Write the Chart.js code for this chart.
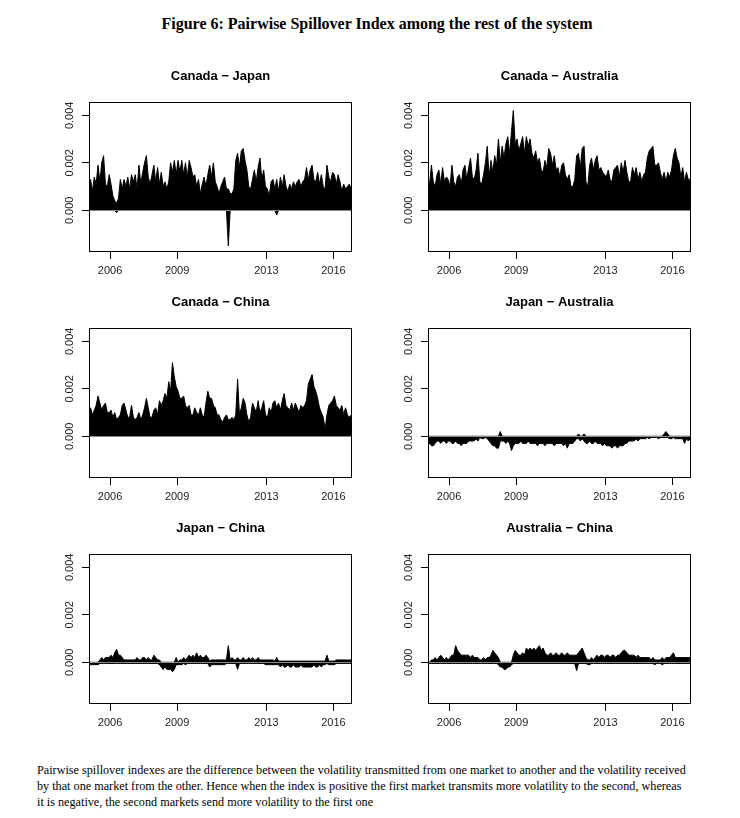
<!DOCTYPE html>
<html>
<head>
<meta charset="utf-8">
<title>Figure 6: Pairwise Spillover Index</title>
<script src="https://cdn.jsdelivr.net/npm/chart.js"></script>
<style>
  body { margin: 0; width: 740px; height: 818px; background: #fff; position: relative; overflow: hidden; }
  .fig-title { position: absolute; left: 0; width: 754px; top: 15px; text-align: center;
               font: bold 16px "Liberation Serif", "Times New Roman", serif; color: #000; }
  canvas { position: absolute; }
  .note { position: absolute; left: 37px; top: 762px; white-space: nowrap; color: #000;
          font: 12.2px/16px "Liberation Serif", "Times New Roman", serif; }
</style>
</head>
<body>
<div class="fig-title">Figure 6: Pairwise Spillover Index among the rest of the system</div>

<canvas id="p1" width="333" height="235" style="left:29px;top:57px"></canvas>
<canvas id="p2" width="333" height="235" style="left:368px;top:57px"></canvas>
<canvas id="p3" width="333" height="235" style="left:29px;top:283px"></canvas>
<canvas id="p4" width="333" height="235" style="left:368px;top:283px"></canvas>
<canvas id="p5" width="333" height="235" style="left:29px;top:509px"></canvas>
<canvas id="p6" width="333" height="235" style="left:368px;top:509px"></canvas>

<div class="note">Pairwise spillover indexes are the difference between the volatility transmitted from one market to another and the volatility received<br>by that one market from the other. Hence when the index is positive the first market transmits more volatility to the second, whereas<br>it is negative, the second markets send more volatility to the first one</div>

<script>
// monthly series, Jan 2005 .. Oct 2016, values in units of 1e-4
// hi = upper edge of the plotted band, lo = lower edge
const START_YEAR = 2005;
const UNIT = 1e-4;
const yearTicks = [2006, 2009, 2013, 2016];
const yTicks = [0, 0.002, 0.004];

const canJpnHi = [
  10,13,8,14,11,19,12,20,23,11,10,15,
  11,6,4,3,5,13,9,13,10,14,9,15,
  12,15,9,19,11,16,20,23,14,11,15,19,
  12,18,11,16,10,12,9,12,20,16,21,15,
  21,16,21,15,20,14,21,18,14,15,10,13,
  7,11,14,10,15,19,14,20,12,10,7,10,
  12,14,9,9,7,7,9,21,24,18,25,26,
  21,17,10,9,13,17,12,18,22,13,17,10,
  9,6,12,13,9,13,8,14,10,15,10,8,
  11,9,12,10,12,13,10,12,13,18,13,17,
  19,13,12,16,11,15,10,9,19,14,12,16,
  15,11,15,12,8,11,9,10,11,9
];
const canJpnLo = [
  0,0,0,0,0,0,0,0,0,0,0,0,
  0,0,0,-1,0,0,0,0,0,0,0,0,
  0,0,0,0,0,0,0,0,0,0,0,0,
  0,0,0,0,0,0,0,0,0,0,0,0,
  0,0,0,0,0,0,0,0,0,0,0,0,
  0,0,0,0,0,0,0,0,0,0,0,0,
  0,0,0,-15,0,0,0,0,0,0,0,0,
  0,0,0,0,0,0,0,0,0,0,0,0,
  0,0,0,0,0,-2,0,0,0,0,0,0,
  0,0,0,0,0,0,0,0,0,0,0,0,
  0,0,0,0,0,0,0,0,0,0,0,0,
  0,0,0,0,0,0,0,0,0,0
];

const canAusHi = [
  13,11,19,12,10,15,17,11,18,12,14,13,
  10,19,12,10,14,15,11,17,19,13,18,22,
  14,13,17,24,12,11,15,20,27,14,21,16,
  23,19,30,20,27,22,28,31,24,33,42,28,
  30,25,28,31,24,31,27,30,24,22,25,20,
  22,17,16,21,18,26,24,19,23,17,18,14,
  19,20,15,13,15,10,10,13,23,24,18,26,
  27,12,10,19,22,17,21,23,17,18,16,15,
  14,17,13,12,17,18,19,14,20,16,21,16,
  12,12,18,15,18,13,16,12,15,16,22,25,
  26,27,19,19,20,16,13,16,12,16,14,17,
  23,26,22,20,14,18,12,16,13,13
];
const canAusLo = [
  0,0,0,0,0,0,0,0,0,0,0,0,
  0,0,0,0,0,0,0,0,0,0,0,0,
  0,0,0,0,0,0,0,0,0,0,0,0,
  0,0,0,0,0,0,0,0,0,0,0,0,
  0,0,0,0,0,0,0,0,0,0,0,0,
  0,0,0,0,0,0,0,0,0,0,0,0,
  0,0,0,0,0,0,0,0,0,0,0,0,
  0,0,0,0,0,0,0,0,0,0,0,0,
  0,0,0,0,0,0,0,0,0,0,0,0,
  0,0,0,0,0,0,0,0,0,0,0,0,
  0,0,0,0,0,0,0,0,0,0,0,0,
  0,0,0,0,0,0,0,0,0,0
];

const canChnHi = [
  11,12,9,11,13,17,14,11,13,14,10,10,
  11,8,10,7,8,9,13,14,11,8,8,13,
  8,7,8,10,7,9,12,16,12,8,8,11,
  12,9,15,13,15,18,16,23,19,31,25,21,
  19,16,16,17,13,12,13,9,9,12,10,9,
  12,9,8,14,19,16,16,13,12,9,9,7,
  6,8,9,7,7,8,7,9,24,9,12,16,
  14,9,6,8,14,12,10,15,10,12,15,9,
  8,12,10,14,15,12,14,11,15,18,13,12,
  11,14,11,14,12,10,13,12,13,15,22,24,
  26,21,19,16,12,10,8,3,9,13,14,15,
  17,13,12,11,13,9,12,9,8,9
];
const canChnLo = canAusLo;

const jpnAusHi = [
  0,0,0,0,0,0,0,0,0,0,0,0,
  0,0,0,0,0,0,0,0,0,0,0,0,
  0,0,0,0,0,0,0,0,0,0,0,0,
  0,0,0,2,0,0,0,0,0,0,0,0,
  0,0,0,0,0,0,0,0,0,0,0,0,
  0,0,0,0,0,0,0,0,0,0,0,0,
  0,0,0,0,0,0,0,0,0,1,0,0,
  1,0,0,0,0,0,0,0,0,0,0,0,
  0,0,0,0,0,0,0,0,0,0,0,0,
  0,0,0,0,0,0,0,0,0,0,0,0,
  0,0,0,0,0,0,0,1,2,1,0,0,
  0,0,0,0,0,0,0,0,0,0
];
const jpnAusLo = [
  -3,-3,-4,-4,-3,-2,-2,-3,-2,-2,-3,-2,
  -2,-3,-3,-2,-3,-3,-4,-3,-3,-3,-2,-2,
  -2,-2,-1,-2,-0.5,-1,-1,-0.5,-1,-2,-3,-4,
  -4,-5,-5,-2,-2,-2,-3,-2,-3,-6,-4,-3,
  -3,-3,-2,-3,-3,-3,-2,-3,-3,-3,-3,-4,
  -3,-3,-3,-4,-3,-3,-3,-3,-4,-3,-3,-3,
  -3,-4,-3,-5,-3,-3,-3,-2,-1,-1,-2,-1,
  -2,-3,-3,-2,-3,-3,-2,-3,-3,-3,-4,-3,
  -4,-4,-4,-5,-4,-4,-5,-4,-4,-4,-3,-3,
  -2,-2,-2,-2,-1,-2,-1,-1,-1,-1,-0.5,-1,
  -0.5,-0.5,-0.5,-0.5,-1,-0.5,-0.5,-0.5,-0.5,-0.5,-1,-1,
  -0.5,-1,-1,-1,-1,-1,-3,-1,-2,-1
];

const jpnChnHi = [
  0,0,0,0,0,0,1,2,1,2,2,2,
  3,2,4,5.5,3,3,2,1,1,1,1,1,
  1,1,2,1,1,2,2,1,2,1,1,3,
  2,1,1,0,0,0,0,0,0,0,0,2,
  0,1,1,2,1,2,3,2,3,2,4,2,
  3,2,2,3,2,0.5,1,1,1,1,1,1,
  1,1,1,7,1,2,1,1,2,1,1,2,
  1,1,2,1,2,1,1,2,1,1,1,1,
  1,1,1,1,0.5,2,0.5,0.5,0.5,0.5,0.5,0.5,
  0.5,0.5,0.5,0.5,0.5,0.5,0.5,0.5,0.5,0.5,0.5,0.5,
  0.5,0.5,0.5,0.5,0.5,0.5,0.5,0.5,3,0.5,0.5,0.5,
  0.5,1,1,1,1,1,1,1,1,1
];
const jpnChnLo = [
  -1,-1,-1,-1,-1,-1,-0.5,-0.5,-0.5,-0.5,-0.5,-0.5,
  -0.5,-0.5,-0.5,-0.5,-0.5,-0.5,-0.5,-0.5,-0.5,-0.5,-0.5,-0.5,
  -0.5,-0.5,-0.5,-0.5,-0.5,-0.5,-0.5,-0.5,-0.5,-0.5,-0.5,-0.5,
  -0.5,-0.5,-1,-2,-3,-2,-3,-3,-3,-4,-3,-1,
  -1,-1,-1,-0.5,-1,-0.5,-0.5,-0.5,-0.5,-0.5,-0.5,-0.5,
  -0.5,-0.5,-0.5,-0.5,-0.5,-2,-1,-1,-1,-1,-1,-1,
  -1,-1,-0.5,-0.5,-0.5,-0.5,-0.5,-0.5,-3,-0.5,-0.5,-0.5,
  -0.5,-0.5,-0.5,-0.5,-0.5,-0.5,-0.5,-0.5,-0.5,-0.5,-0.5,-1,
  -1,-1,-1,-1,-1,-1,-1,-2,-1,-2,-2,-1,
  -2,-2,-1,-2,-2,-2,-1,-2,-2,-2,-2,-2,
  -2,-1,-2,-2,-1,-2,-1,-1,-0.5,-1,-1,-1,
  -1,-0.5,-0.5,-0.5,-0.5,-0.5,-0.5,-0.5,-0.5,-0.5
];

const ausChnHi = [
  0,0,1,1,2,1,2,3,2,1,2,1,
  2,3,3,7,5,4,3,3,3,3,3,2,
  3,2,2,2,1,1,2,1,2,2,3,5,
  4,3,2,0,0,0,0,0,0,0,3,5,
  4,3,3,4,3,6,5,6,5,6,5,6,
  7,5,6,4,3,3,4,3,3,4,3,3,
  4,3,3,4,3,3,3,3,3,4,5,6,
  4,2,1,1,2,1,2,3,2,3,3,2,
  3,3,2,3,3,2,3,3,4,5,5,4,
  3,3,3,3,2,3,2,2,2,2,2,2,
  1,2,1,1,1,1,2,1,2,2,2,3,
  4,2,2,2,2,2,2,2,2,2
];
const ausChnLo = [
  -0.5,-0.5,-0.5,-0.5,-0.5,-0.5,-0.5,-0.5,-0.5,-0.5,-0.5,-0.5,
  -0.5,-0.5,-0.5,-0.5,-0.5,-0.5,-0.5,-0.5,-0.5,-0.5,-0.5,-0.5,
  -0.5,-0.5,-0.5,-0.5,-0.5,-0.5,-0.5,-0.5,-0.5,-0.5,-0.5,-0.5,
  -0.5,-0.5,-1,-2,-2,-3,-3,-2,-2,-1,-0.5,-0.5,
  -0.5,-0.5,-0.5,-0.5,-0.5,-0.5,-0.5,-0.5,-0.5,-0.5,-0.5,-0.5,
  -0.5,-0.5,-0.5,-0.5,-0.5,-0.5,-0.5,-0.5,-0.5,-0.5,-0.5,-0.5,
  -0.5,-0.5,-0.5,-0.5,-0.5,-0.5,-0.5,-0.5,-3.5,-0.5,-0.5,-0.5,
  -0.5,-0.5,-1,-1,-0.5,-0.5,-0.5,-0.5,-0.5,-0.5,-0.5,-0.5,
  -0.5,-0.5,-0.5,-0.5,-0.5,-0.5,-0.5,-0.5,-0.5,-0.5,-0.5,-0.5,
  -0.5,-0.5,-0.5,-0.5,-0.5,-0.5,-0.5,-0.5,-0.5,-0.5,-0.5,-0.5,
  -0.5,-0.5,-1,-0.5,-0.5,-0.5,-1,-0.5,-0.5,-0.5,-0.5,-0.5,
  -0.5,-0.5,-0.5,-0.5,-0.5,-0.5,-0.5,-0.5,-0.5,-0.5
];

const panels = [
  { id: 'p1', title: 'Canada \u2212 Japan', hi: canJpnHi, lo: canJpnLo },
  { id: 'p2', title: 'Canada \u2212 Australia', hi: canAusHi, lo: canAusLo },
  { id: 'p3', title: 'Canada \u2212 China', hi: canChnHi, lo: canChnLo },
  { id: 'p4', title: 'Japan \u2212 Australia', hi: jpnAusHi, lo: jpnAusLo },
  { id: 'p5', title: 'Japan \u2212 China', hi: jpnChnHi, lo: jpnChnLo },
  { id: 'p6', title: 'Australia \u2212 China', hi: ausChnHi, lo: ausChnLo }
];

const FONT = '"Liberation Sans", Arial, Helvetica, sans-serif';

// month i sits at the middle of its month on a decimal-year axis
function toPoints(arr) {
  return arr.map((v, i) => ({ x: START_YEAR + (i + 0.5) / 12, y: v * UNIT }));
}

// box around the plot, grey zero line and the rotated y labels (R style)
const rFrame = {
  id: 'rFrame',
  afterDatasetsDraw(chart) {
    const { ctx, chartArea: a, scales: { y } } = chart;
    ctx.save();
    const y0 = Math.round(y.getPixelForValue(0)) + 0.5;
    ctx.strokeStyle = '#8a8a8a';
    ctx.lineWidth = 1;
    ctx.beginPath();
    ctx.moveTo(a.left, y0);
    ctx.lineTo(a.right, y0);
    ctx.stroke();

    ctx.strokeStyle = '#000';
    ctx.strokeRect(Math.round(a.left) + 0.5, Math.round(a.top) + 0.5,
                   Math.round(a.width) - 1, Math.round(a.height) - 1);

    ctx.fillStyle = '#222';
    ctx.font = '11px ' + FONT;
    ctx.textAlign = 'center';
    ctx.textBaseline = 'middle';
    y.ticks.forEach(t => {
      ctx.save();
      ctx.translate(a.left - 19, y.getPixelForValue(t.value));
      ctx.rotate(-Math.PI / 2);
      ctx.fillText(t.value.toFixed(3), 0, 0);
      ctx.restore();
    });
    ctx.restore();
  }
};

panels.forEach(p => {
  // upper edge first, lower edge fills up to it
  const edge = (data, fill) => ({
    data: toPoints(data),
    borderColor: '#000',
    backgroundColor: '#000',
    borderWidth: 1,
    pointRadius: 0,
    tension: 0,
    fill: fill
  });

  new Chart(document.getElementById(p.id), {
    type: 'line',
    data: { datasets: [edge(p.hi, false), edge(p.lo, '-1')] },
    options: {
      responsive: false,
      animation: false,
      devicePixelRatio: 1,
      layout: { padding: { left: 0, right: 10, top: 0, bottom: 0 } },
      plugins: {
        legend: { display: false },
        tooltip: { enabled: false },
        title: {
          display: true,
          fullSize: false,
          text: p.title,
          color: '#000',
          font: { family: FONT, size: 13, weight: 'bold' },
          padding: { top: 12, bottom: 17.4 }
        }
      },
      scales: {
        x: {
          type: 'linear',
          min: 2005.055,
          max: 2016.83,
          afterBuildTicks: s => { s.ticks = yearTicks.map(v => ({ value: v })); },
          afterFit: s => { s.height = 40; },
          ticks: {
            color: '#222',
            font: { family: FONT, size: 11 },
            padding: 5,
            maxRotation: 0,
            autoSkip: false,
            callback: v => String(v)
          },
          grid: { drawOnChartArea: false, tickLength: 7, color: '#000' },
          border: { display: false }
        },
        y: {
          min: -0.001756,
          max: 0.00456,
          afterBuildTicks: s => { s.ticks = yTicks.map(v => ({ value: v })); },
          afterFit: s => { s.width = 60; },
          ticks: { display: false },
          grid: { drawOnChartArea: false, tickLength: 7, color: '#000' },
          border: { display: false }
        }
      }
    },
    plugins: [rFrame]
  });
});
</script>
</body>
</html>
